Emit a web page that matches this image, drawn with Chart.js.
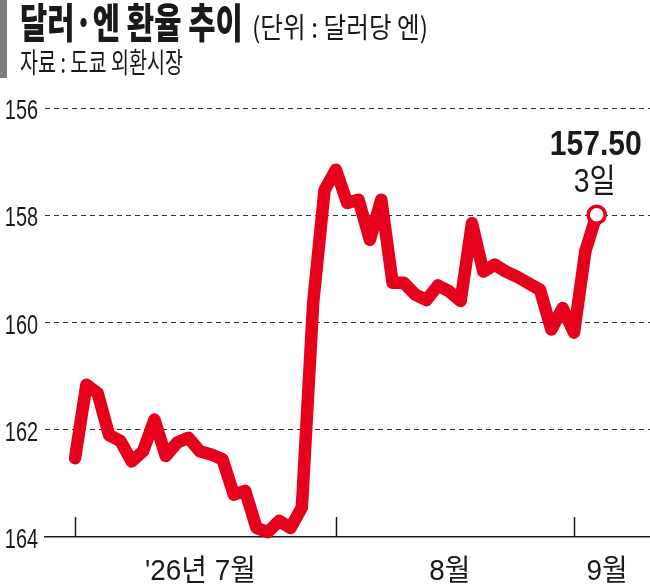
<!DOCTYPE html>
<html><head><meta charset="utf-8">
<script src="https://cdn.jsdelivr.net/npm/chart.js@4.4.1/dist/chart.umd.min.js"></script>
<style>
html,body{margin:0;padding:0;background:#fff;}
#wrap{position:relative;width:650px;height:586px;overflow:hidden;background:#fff;}
#bar{position:absolute;left:0;top:0;width:7px;height:78px;background:#7d7d7d;}
.t{position:absolute;white-space:nowrap;line-height:1;transform-origin:0 0;color:#1a1a1a;font-family:"Noto Sans CJK KR","Noto Sans",sans-serif;}
#title{left:20px;top:0px;font-size:41px;font-weight:900;}
#unit{left:252px;top:12px;font-size:28px;font-weight:400;}
#source{left:20px;top:47px;font-size:28px;font-weight:400;}
canvas{position:absolute;left:0;top:0;}
</style></head>
<body><div id="wrap">
<canvas id="c" width="650" height="586" style="width:650px;height:586px"></canvas>
<div id="bar"></div>
<div class="t" id="title" data-w="223">달러·엔 환율 추이</div>
<div class="t" id="unit" data-w="176">(단위 : 달러당 엔)</div>
<div class="t" id="source" data-w="163">자료 : 도쿄 외환시장</div>
</div>
<script>
// ---- data ----
const dates = [
 "7/1","7/2","7/3","7/6","7/7","7/8","7/9","7/10","7/13","7/14","7/15","7/16","7/17",
 "7/20","7/21","7/22","7/23","7/24","7/27","7/28","7/29","7/30","7/31",
 "8/3","8/4","8/5","8/6","8/7","8/10","8/11","8/12","8/13","8/14","8/17","8/18","8/19",
 "8/20","8/21","8/24","8/25","8/26","8/27","8/28","8/31",
 "9/1","9/2","9/3"
];
const rates = [
 162.53,161.16,161.32,162.10,162.21,162.59,162.40,161.81,162.49,162.24,162.15,162.40,162.46,
 162.55,163.21,163.14,163.83,163.91,163.70,163.83,163.45,159.63,157.53,
 157.15,157.77,157.71,158.46,157.71,159.26,159.26,159.48,159.58,159.31,159.42,159.60,158.15,
 159.05,158.92,159.05,159.15,159.27,159.39,160.13,159.73,
 160.19,158.67,157.99
];
const monthNames = ["'26년 7월","8월","9월"];
const monthStarts = ["7/1","8/3","9/1"];
const yTickValues = [156,158,160,162,164];
const lastValueText = "157.50";
const lastDayText = "3일";

// ---- style ----
const RED = '#e5001c';
const INK = '#1a1a1a';
const DIGIT_FONT = '"Liberation Sans","Noto Sans CJK KR",sans-serif';

function drawScaled(ctx, text, x, y, sx, align){
  ctx.save();
  ctx.translate(x, y);
  ctx.scale(sx, 1);
  ctx.textAlign = align;
  ctx.textBaseline = 'alphabetic';
  ctx.fillText(text, 0, 0);
  ctx.restore();
}

const labelPlugin = {
  id: 'labels',
  afterDraw(chart){
    const ctx = chart.ctx;
    const xs = chart.scales.x, ys = chart.scales.y;
    const area = chart.chartArea;
    ctx.save();
    ctx.fillStyle = INK;
    // y tick labels from the y scale ticks
    ctx.font = '400 28px ' + DIGIT_FONT;
    ys.ticks.forEach(t => {
      const py = ys.getPixelForValue(t.value);
      drawScaled(ctx, String(t.value), area.left - 7, py + 11, 0.71, 'right');
    });
    // month tick marks and labels
    const startIdx = monthStarts.map(d => dates.indexOf(d));
    ctx.strokeStyle = INK;
    ctx.lineWidth = 1.5;
    startIdx.forEach(i => {
      const px = Math.round(xs.getPixelForValue(i)) + 0.5;
      ctx.beginPath();
      ctx.moveTo(px, area.bottom - 20);
      ctx.lineTo(px, area.bottom);
      ctx.stroke();
    });
    ctx.font = '400 30px ' + DIGIT_FONT;
    monthNames.forEach((name, k) => {
      const a = startIdx[k];
      const b = k + 1 < startIdx.length ? startIdx[k + 1] : xs.max;
      const px = xs.getPixelForValue((a + b) / 2);
      drawScaled(ctx, name, px - 5, 580, 0.93, 'center');
    });
    // annotation on the last point
    const meta = chart.getDatasetMeta(0);
    const last = meta.data[meta.data.length - 1];
    ctx.font = '700 35px ' + DIGIT_FONT;
    drawScaled(ctx, lastValueText, last.x - 1, last.y - 60, 0.86, 'center');
    ctx.font = '400 33px ' + DIGIT_FONT;
    drawScaled(ctx, lastDayText, last.x - 2, last.y - 23, 0.86, 'center');
    ctx.restore();
  }
};

new Chart(document.getElementById('c'), {
  type: 'line',
  data: {
    datasets: [{
      data: rates.map((v, i) => ({ x: i, y: v })),
      borderColor: RED,
      borderWidth: 12.5,
      borderJoinStyle: 'round',
      borderCapStyle: 'round',
      tension: 0,
      clip: false,
      pointRadius: c => c.dataIndex === rates.length - 1 ? 8.5 : 0,
      pointHoverRadius: 0,
      pointBackgroundColor: '#ffffff',
      pointBorderColor: RED,
      pointBorderWidth: 3.5
    }]
  },
  options: {
    responsive: false,
    animation: false,
    events: [],
    devicePixelRatio: 1,
    layout: { autoPadding: false, padding: { left: 45, right: 0, top: 108, bottom: 49 } },
    plugins: { legend: { display: false }, tooltip: { enabled: false } },
    scales: {
      x: {
        type: 'linear', min: -2.65, max: 50.7,
        afterFit: s => { s.height = 0; s.paddingLeft = 0; s.paddingRight = 0; },
        grid: { display: false, drawTicks: false },
        ticks: { display: false, padding: 0 },
        border: { display: true, color: INK, width: 1.5 }
      },
      y: {
        reverse: true, min: 156, max: 164,
        afterFit: s => { s.width = 0; s.paddingTop = 0; s.paddingBottom = 0; },
        afterBuildTicks: s => { s.ticks = yTickValues.map(v => ({ value: v })); },
        grid: {
          drawTicks: false, lineWidth: 1,
          color: c => (c.tick && c.tick.value === 164) ? 'rgba(0,0,0,0)' : '#333333'
        },
        border: { display: false, dash: [5, 4] },
        ticks: { display: false, padding: 0 }
      }
    }
  },
  plugins: [labelPlugin]
});

// fit title texts horizontally to their widths
document.querySelectorAll('.t').forEach(el => {
  const w = el.getBoundingClientRect().width;
  const target = parseFloat(el.dataset.w);
  el.style.transform = 'scaleX(' + (target / w).toFixed(3) + ')';
});
</script>
</body></html>
